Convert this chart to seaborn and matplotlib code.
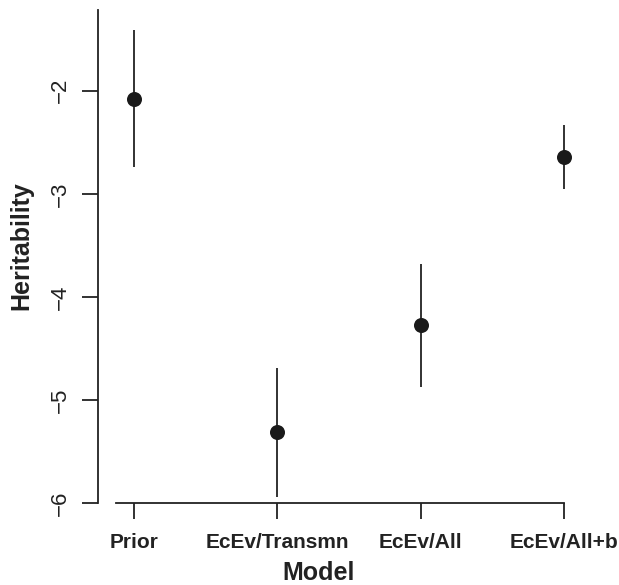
import matplotlib
matplotlib.use("Agg")
import matplotlib.pyplot as plt
import seaborn as sns
import pandas as pd

models = ["Prior", "EcEv/Transmn", "EcEv/All", "EcEv/All+b"]
estimate = [-2.08, -5.31, -4.27, -2.64]
lower = [-2.74, -5.94, -4.87, -2.95]
upper = [-1.41, -4.69, -3.68, -2.33]
yticks = [-6, -5, -4, -3, -2]

sns.set_theme(style="ticks")
plt.rcParams['font.family'] = ['Liberation Sans', 'DejaVu Sans']

df = pd.DataFrame({"Model": models, "Heritability": estimate,
                   "lo": lower, "hi": upper})

W, H = 619, 585
fig = plt.figure(figsize=(W / 100, H / 100), dpi=100)
ax = fig.add_axes([98 / W, (H - 503.3) / H, (581.5 - 98) / W, (503.3 - 10) / H])

col = "#222222"
xpos = list(range(len(models)))
ax.vlines(xpos, df["lo"], df["hi"], color=col, linewidth=1.3, zorder=2)
sns.scatterplot(data=df, x="Model", y="Heritability", ax=ax, s=117,
                color="#1a1a1a", edgecolor="#1a1a1a", linewidth=0, zorder=3)

ax.set_xlim(-0.2488, 3.12)
ax.set_ylim(-6, -1.218)
ax.set_yticks(yticks)
ax.set_yticklabels([f"\u2212{abs(v)}" for v in yticks], rotation=90,
                   va="center", fontsize=16, color=col)
ax.set_xticks(xpos)
ax.set_xticklabels(models, fontsize=15, fontweight="bold", color=col)

for s in ["top", "right"]:
    ax.spines[s].set_visible(False)
ax.spines["left"].set_bounds(-6, -1.218)
ax.spines["bottom"].set_bounds(-0.123, 3)
for s in ["left", "bottom"]:
    ax.spines[s].set_color(col)
    ax.spines[s].set_linewidth(1.3)
ax.tick_params(axis="both", length=11.5, width=1.3, color=col)
ax.tick_params(axis="y", pad=8)
ax.tick_params(axis="x", pad=10)

ax.set_xlabel("Model", fontsize=18, fontweight="bold", color=col)
ax.set_ylabel("Heritability", fontsize=18, fontweight="bold", color=col)
ax.xaxis.set_label_coords(0.457, -0.117)
ax.yaxis.set_label_coords(-0.133, 0.5216)

fig.savefig("out.png", dpi=100, facecolor="white")
